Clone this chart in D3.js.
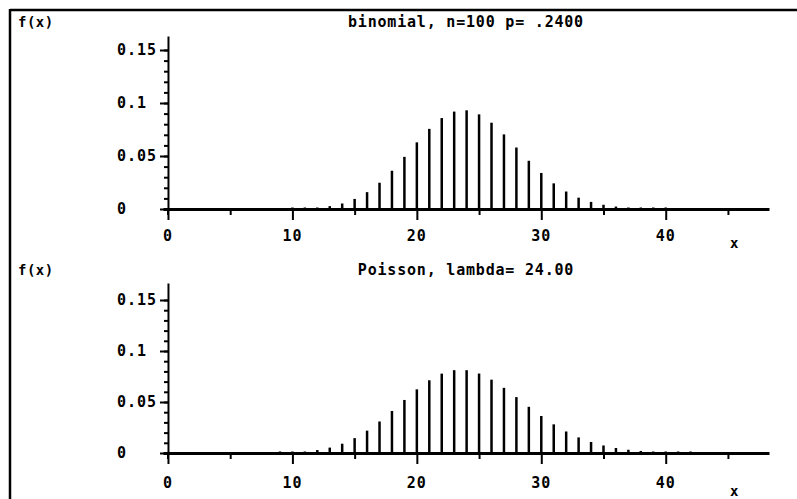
<!DOCTYPE html>
<html>
<head>
<meta charset="utf-8">
<script src="https://cdn.jsdelivr.net/npm/d3@7"></script>
<style>
  html, body { margin: 0; padding: 0; background: #fff; }
  svg text { font-family: "DejaVu Sans Mono", monospace; font-weight: bold; fill: #000; }
</style>
</head>
<body>
<svg id="chart" width="797" height="499"></svg>
<script>
// ---- data ----
const binomK = [10,11,12,13,14,15,16,17,18,19,20,21,22,23,24,25,26,27,28,29,30,31,32,33,34,35,36,37,38,39,40];
const binomF = [0.0002,0.0005,0.0013,0.0027,0.0052,0.0095,0.0159,0.0248,0.0361,0.0492,0.0629,0.0756,0.0858,0.0919,0.0931,0.0893,0.0814,0.0704,0.0580,0.0455,0.0340,0.0242,0.0165,0.0107,0.0067,0.0040,0.0023,0.0012,0.0007,0.0003,0.0002];
const poisK = [9,10,11,12,13,14,15,16,17,18,19,20,21,22,23,24,25,26,27,28,29,30,31,32,33,34,35,36,37,38,39,40,41,42];
const poisF = [0.0003,0.0007,0.0014,0.0029,0.0053,0.0091,0.0146,0.0219,0.0309,0.0412,0.0520,0.0624,0.0713,0.0778,0.0812,0.0812,0.0779,0.0719,0.0639,0.0548,0.0453,0.0363,0.0281,0.0211,0.0153,0.0108,0.0074,0.0049,0.0032,0.0020,0.0013,0.0008,0.0004,0.0003];
const xMajorTicks = [0,10,20,30,40];
const xMinorTicks = [5,15,25,35,45];
const yMajorTicks = [0,0.05,0.1,0.15];
const yTickLabels = ["0","0.05","0.1","0.15"];
const titles = ["binomial, n=100 p= .2400", "Poisson, lambda= 24.00"];

const svg = d3.select("#chart");

// frame
svg.append("line").attr("x1",10).attr("y1",10).attr("x2",797).attr("y2",10).attr("stroke","#000").attr("stroke-width",2.5);
svg.append("line").attr("x1",10).attr("y1",9).attr("x2",10).attr("y2",499).attr("stroke","#000").attr("stroke-width",2.5);

const x = d3.scaleLinear().domain([-0.4, 48.3]).range([163, 769]);

const panels = [
  {k: binomK, f: binomF, base: 209, top: 36, per: 1060, title: titles[0], titleY: 22, fxY: 22, tickLblY: 236, xLblY: 243},
  {k: poisK,  f: poisF,  base: 453, top: 283, per: 1020, title: titles[1], titleY: 270, fxY: 270, tickLblY: 483, xLblY: 491}
];

panels.forEach(p => {
  const yMax = (p.base - p.top) / p.per;
  const y = d3.scaleLinear().domain([0, yMax]).range([p.base, p.top]);
  const g = svg.append("g");

  // y axis (minor ticks)
  const yMinor = d3.range(0, 0.1501, 0.01);
  g.append("g").attr("transform", `translate(${x(0)},0)`)
    .call(d3.axisLeft(y).tickValues(yMinor).tickSize(4).tickSizeOuter(0).tickFormat(""))
    .call(a => a.select(".domain").attr("stroke-width", 2))
    .call(a => a.selectAll(".tick line").attr("stroke-width", 2));
  // y axis major ticks
  g.append("g").attr("transform", `translate(${x(0)},0)`)
    .call(d3.axisLeft(y).tickValues(yMajorTicks).tickSize(8).tickFormat(""))
    .call(a => a.select(".domain").remove())
    .call(a => a.selectAll(".tick line").attr("stroke-width", 2));
  // y axis extension below baseline
  g.append("line").attr("x1", x(0)).attr("x2", x(0)).attr("y1", p.base).attr("y2", p.base + 6).attr("stroke","#000").attr("stroke-width",2);
  // y labels
  g.selectAll(".ylbl").data(yMajorTicks).enter().append("text")
    .attr("x", 117).attr("y", d => y(d)).attr("dy", "0.35em")
    .attr("font-size", 15).attr("letter-spacing", "1px")
    .text((d,i) => yTickLabels[i]);

  // x axis major
  g.append("g").attr("transform", `translate(0,${p.base})`)
    .call(d3.axisBottom(x).tickValues(xMajorTicks).tickSize(11).tickSizeOuter(0).tickFormat(""))
    .call(a => a.select(".domain").attr("stroke-width", 3))
    .call(a => a.selectAll(".tick line").attr("stroke-width", 2));
  // x axis minor
  g.append("g").attr("transform", `translate(0,${p.base})`)
    .call(d3.axisBottom(x).tickValues(xMinorTicks).tickSize(6).tickFormat(""))
    .call(a => a.select(".domain").remove())
    .call(a => a.selectAll(".tick line").attr("stroke-width", 2));
  // x labels
  g.selectAll(".xlbl").data(xMajorTicks).enter().append("text")
    .attr("x", d => x(d)).attr("y", p.tickLblY).attr("dy","0.35em")
    .attr("text-anchor","middle").attr("font-size", 15).attr("letter-spacing","1px")
    .text(d => d);
  g.append("text").attr("x", x(45.5)).attr("y", p.xLblY).attr("dy","0.35em")
    .attr("text-anchor","middle").attr("font-size", 14).text("x");

  // bars
  g.selectAll(".bar").data(p.k.map((k,i) => ({k, v: p.f[i]}))).enter().append("line")
    .attr("x1", d => x(d.k)).attr("x2", d => x(d.k))
    .attr("y1", y(0)).attr("y2", d => Math.min(y(d.v), y(0) - 1.5))
    .attr("stroke","#000").attr("stroke-width", 2.5);

  // titles
  g.append("text").attr("x", 466).attr("y", p.titleY).attr("dy","0.35em")
    .attr("text-anchor","middle").attr("font-size", 15).attr("letter-spacing","0.8px")
    .text(p.title);
  g.append("text").attr("x", 18).attr("y", p.fxY).attr("dy","0.35em")
    .attr("font-size", 14).attr("letter-spacing","0.5px").text("f(x)");
});
</script>
</body>
</html>
